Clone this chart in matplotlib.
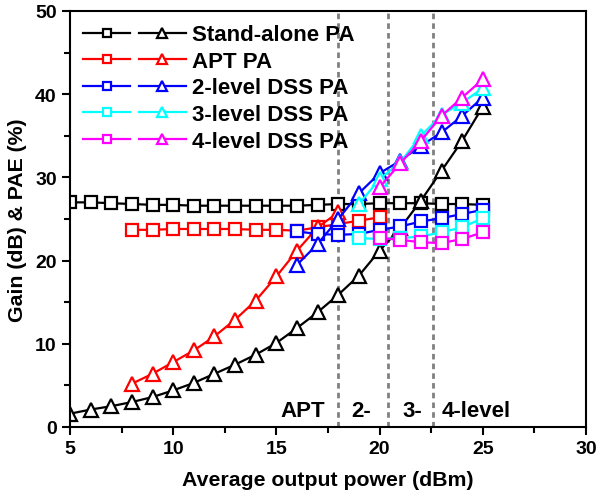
import numpy as np
import matplotlib
matplotlib.use("Agg")
import matplotlib.pyplot as plt
from matplotlib.legend_handler import HandlerTuple
from matplotlib.ticker import MultipleLocator

plt.rcParams['font.family'] = ['Liberation Sans', 'DejaVu Sans']
plt.rcParams['font.weight'] = 'bold'

# %% DATA
x_sa = list(range(5, 26))
gain_sa = [27.0, 27.0, 26.9, 26.8, 26.7, 26.7, 26.6, 26.6, 26.6, 26.6, 26.6,
           26.6, 26.7, 26.8, 26.8, 26.9, 26.9, 26.9, 26.8, 26.8, 26.7]
pae_sa = [1.6, 2.1, 2.5, 3.0, 3.6, 4.4, 5.3, 6.4, 7.5, 8.7, 10.1,
          11.9, 13.8, 15.9, 18.2, 21.2, 23.9, 27.2, 30.8, 34.4, 38.5]

x_apt = list(range(8, 21))
gain_apt = [23.7, 23.7, 23.8, 23.8, 23.8, 23.8, 23.7, 23.7, 23.6, 24.0, 24.4, 24.8, 25.2]
x_apt_pae = list(range(8, 19))
pae_apt = [5.2, 6.4, 7.8, 9.2, 10.9, 12.9, 15.2, 18.1, 21.2, 24.0, 25.8]

x_dss2 = list(range(16, 26))
gain_dss2 = [23.5, 23.2, 23.1, 23.2, 23.7, 24.1, 24.7, 25.1, 25.6, 26.1]
pae_dss2 = [19.5, 22.0, 25.0, 28.1, 30.5, 32.0, 33.8, 35.4, 37.4, 39.6]

x_dss3 = list(range(19, 26))
gain_dss3 = [22.7, 22.6, 22.7, 22.9, 23.4, 24.0, 25.1]
pae_dss3 = [26.8, 29.8, 31.8, 35.0, 37.5, 39.0, 40.7]

x_dss4 = list(range(20, 26))
gain_dss4 = [22.7, 22.5, 22.2, 22.1, 22.6, 23.4]
pae_dss4 = [28.8, 31.7, 34.4, 37.4, 39.6, 41.8]

boundaries = [18.0, 20.4, 22.6]
region_labels = ["APT", "2-", "3-", "4-level"]
region_x = [16.3, 19.1, 21.6, 24.7]

series = [
    ("Stand-alone PA", 'black', x_sa, gain_sa, x_sa, pae_sa),
    ("APT PA", '#ff0000', x_apt, gain_apt, x_apt_pae, pae_apt),
    ("2-level DSS PA", '#0000ff', x_dss2, gain_dss2, x_dss2, pae_dss2),
    ("3-level DSS PA", '#00ffff', x_dss3, gain_dss3, x_dss3, pae_dss3),
    ("4-level DSS PA", '#ff00ff', x_dss4, gain_dss4, x_dss4, pae_dss4),
]

# %% FIGURE
fig = plt.figure(figsize=(5.97, 5.02), dpi=100)
ax = fig.add_axes([70/597, 74/502, 516/597, 416/502])

for xb in boundaries:
    ax.axvline(xb, color='#808080', linestyle=(0, (2, 1.5)), linewidth=2, zorder=1)

handles = []
labels = []
for name, col, xg, yg, xp, yp in series:
    hs, = ax.plot(xg, yg, '-', color=col, marker='s', markersize=8,
                  markerfacecolor='white', markeredgewidth=1.6, linewidth=1.6)
    ht, = ax.plot(xp, yp, '-', color=col, marker='^', markersize=10,
                  markerfacecolor='white', markeredgewidth=1.6, linewidth=1.6)
    handles.append((hs, ht))
    labels.append(name)

for lab, xt in zip(region_labels, region_x):
    ax.text(xt, 2.0, lab, fontsize=16, fontweight='bold', ha='center', va='center')

ax.set_xlim(5, 30)
ax.set_ylim(0, 50)
ax.xaxis.set_major_locator(MultipleLocator(5))
ax.xaxis.set_minor_locator(MultipleLocator(2.5))
ax.yaxis.set_major_locator(MultipleLocator(10))
ax.yaxis.set_minor_locator(MultipleLocator(5))
ax.tick_params(which='both', direction='out', top=False, right=False,
               labelsize=14, width=1.5)
ax.tick_params(which='major', length=6)
ax.tick_params(which='minor', length=4)
for sp in ax.spines.values():
    sp.set_linewidth(1.5)

ax.set_xlabel("Average output power (dBm)", fontsize=15.3, fontweight='bold', labelpad=9)
ax.set_ylabel("Gain (dB) & PAE (%)", fontsize=15.3, fontweight='bold', labelpad=6)

ax.legend(handles, labels, handler_map={tuple: HandlerTuple(ndivide=None, pad=0.4)},
          loc='upper left', frameon=False, fontsize=16, handlelength=4.6,
          handletextpad=0.3, labelspacing=0.25, borderaxespad=0.2,
          markerscale=0.75, bbox_to_anchor=(0.0, 1.0))

fig.savefig("out.png", dpi=100)
